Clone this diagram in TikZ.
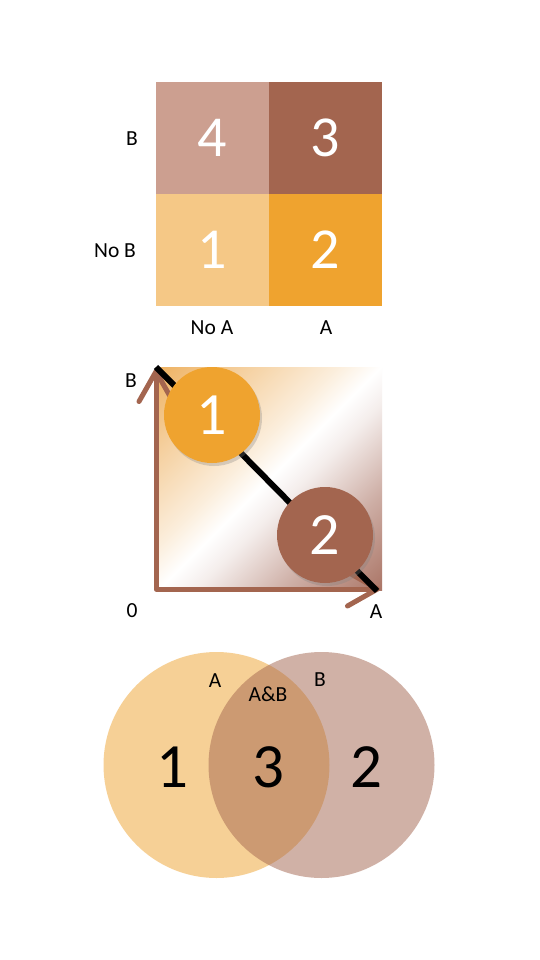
\documentclass[tikz,border=0pt]{standalone}
\usepackage{fontspec}
\setmainfont{Carlito}
\usetikzlibrary{arrows.meta,shadows}
\definecolor{cTL}{RGB}{204,159,144}
\definecolor{cTR}{RGB}{163,101,79}
\definecolor{cBL}{RGB}{245,200,134}
\definecolor{cBR}{RGB}{239,163,47}
\definecolor{gradO}{RGB}{236,168,78}
\definecolor{gradB}{RGB}{165,108,92}
\pgfdeclareverticalshading{diagfade}{100bp}{color(0bp)=(gradB); color(12bp)=(gradB); color(30bp)=(gradB!55!white); color(44bp)=(gradB!12!white); color(50bp)=(white); color(57bp)=(gradO!20!white); color(72bp)=(gradO!55!white); color(90bp)=(gradO); color(100bp)=(gradO)}
\tikzset{
  cell/.style={minimum width=113pt,minimum height=112pt,inner sep=0pt,text=white,font=\fontsize{58}{58}\selectfont},
  lab/.style={font=\fontsize{21.5}{21.5}\selectfont,inner sep=0pt},
  axis/.style={line width=5pt,draw=cTR,line cap=round,line join=round},
  ball/.style={circle,minimum size=96pt,inner sep=0pt,text=white,font=\fontsize{60}{60}\selectfont,
     drop shadow={opacity=0.3,shadow xshift=2pt,shadow yshift=-3pt}},
  venn/.style={fill opacity=0.5},
  big/.style={font=\fontsize{63}{63}\selectfont,inner sep=0pt}
}
\begin{document}
\begin{tikzpicture}[x=1pt,y=-1pt]
\useasboundingbox[fill=white] (0,0) rectangle (540,960);
% grid
\node[cell,fill=cTL] (c4) at (212.5,138) {4};
\node[cell,fill=cTR] (c3) at (325.5,138) {3};
\node[cell,fill=cBL] (c1) at (212.5,250) {1};
\node[cell,fill=cBR] (c2) at (325.5,250) {2};
\node[lab] (lB) at (132,139) {B};
\node[lab] (lNB) at (115,251) {No B};
\node[lab] (lNA) at (212,328) {No A};
\node[lab] (lA) at (326,328) {A};
% middle chart
\shade[shading=diagfade,shading angle=45] (157,367) rectangle (382,590);
\coordinate (O) at (156,589);
\coordinate (Btip) at (156,369);
\coordinate (Atip) at (380,589);
\draw[axis,{Straight Barb[length=30pt,width=34pt,round]}-{Straight Barb[length=30pt,width=34pt,round]}] (Btip) -- (O) -- (Atip);
\coordinate (L1) at (156,367);
\coordinate (L2) at (377,591);
\draw[line width=6pt,black] (L1) -- (L2);
\node[ball,fill=cBR] (b1) at (212,415) {1};
\node[ball,fill=cTR] (b2) at (325,535) {2};
\node[lab] (mB) at (131,381) {B};
\node[lab] (m0) at (132,611) {0};
\node[lab] (mA) at (376,612) {A};
% venn
\fill[cBR,venn] (216.5,765) circle (113pt);
\fill[cTR,venn] (321.5,765) circle (113pt);
\node[lab] (vA) at (215,681) {A};
\node[lab] (vB) at (320,680) {B};
\node[lab] (vAB) at (268,694) {A\&B};
\node[big] (v1) at (172,767) {1};
\node[big] (v3) at (268,767) {3};
\node[big] (v2) at (366,767) {2};
\end{tikzpicture}
\end{document}
